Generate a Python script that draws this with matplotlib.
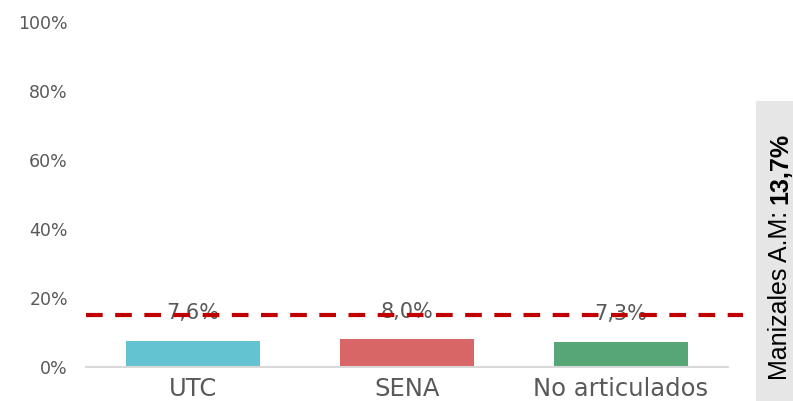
import matplotlib
matplotlib.use("Agg")
import matplotlib.pyplot as plt
import numpy as np

categories = ["UTC", "SENA", "No articulados"]
values = [0.076, 0.080, 0.073]
labels = ["7,6%", "8,0%", "7,3%"]
colors = ["#63C3D1", "#D96666", "#57A677"]
ref_name = "Manizales A.M: "
ref_value = "13,7%"
ref_line = 0.15  # position of dashed line
yticks = [0, 0.2, 0.4, 0.6, 0.8, 1.0]
ytick_labels = ["0%", "20%", "40%", "60%", "80%", "100%"]

txt = "#595959"
plt.rcParams['font.family'] = ['DejaVu Sans']

fig = plt.figure(figsize=(7.93, 4.01), dpi=100)
ax = fig.add_axes([86/793, 34/401, 642/793, 345/401])

x = np.arange(len(categories))
ax.bar(x, values, width=0.626, color=colors, zorder=2)

for xi, v, lab in zip(x, values, labels):
    ax.annotate(lab, (xi, v), xytext=(0, 20), textcoords="offset points",
                ha="center", va="center", fontsize=15, color=txt, zorder=1)

ax.axhline(ref_line, xmin=0, xmax=1.024, color="#C00000", lw=3,
           dashes=(4, 3), clip_on=False, zorder=3)

ax.set_xlim(-0.5, 2.5)
ax.set_ylim(0, 1)
ax.set_yticks(yticks)
ax.set_yticklabels(ytick_labels)
ax.set_xticks(x)
ax.set_xticklabels(categories)
ax.tick_params(axis="y", length=0, pad=13, labelsize=12.5, labelcolor=txt)
ax.tick_params(axis="x", length=0, pad=7, labelsize=17.5, labelcolor=txt)

for s in ["top", "right", "left"]:
    ax.spines[s].set_visible(False)
ax.spines["bottom"].set_color("#D9D9D9")
ax.spines["bottom"].set_linewidth(1.5)

# side box with the metro-area value
box = fig.add_axes([756/793, 0, 37/793, 300/401])
box.set_facecolor("#E6E6E6")
box.set_xticks([])
box.set_yticks([])
for s in box.spines.values():
    s.set_visible(False)
side_font = ["Liberation Sans", "DejaVu Sans"]
t1 = box.text(0.66, 0.07, ref_name, rotation=90, ha="center", va="bottom",
              fontsize=18, family=side_font, color="black",
              transform=box.transAxes)
box.annotate(ref_value, xy=(0.5, 1), xycoords=t1, rotation=90,
             ha="center", va="bottom", fontsize=18, family=side_font,
             weight="bold", color="black")

fig.savefig("out.png", dpi=100)
